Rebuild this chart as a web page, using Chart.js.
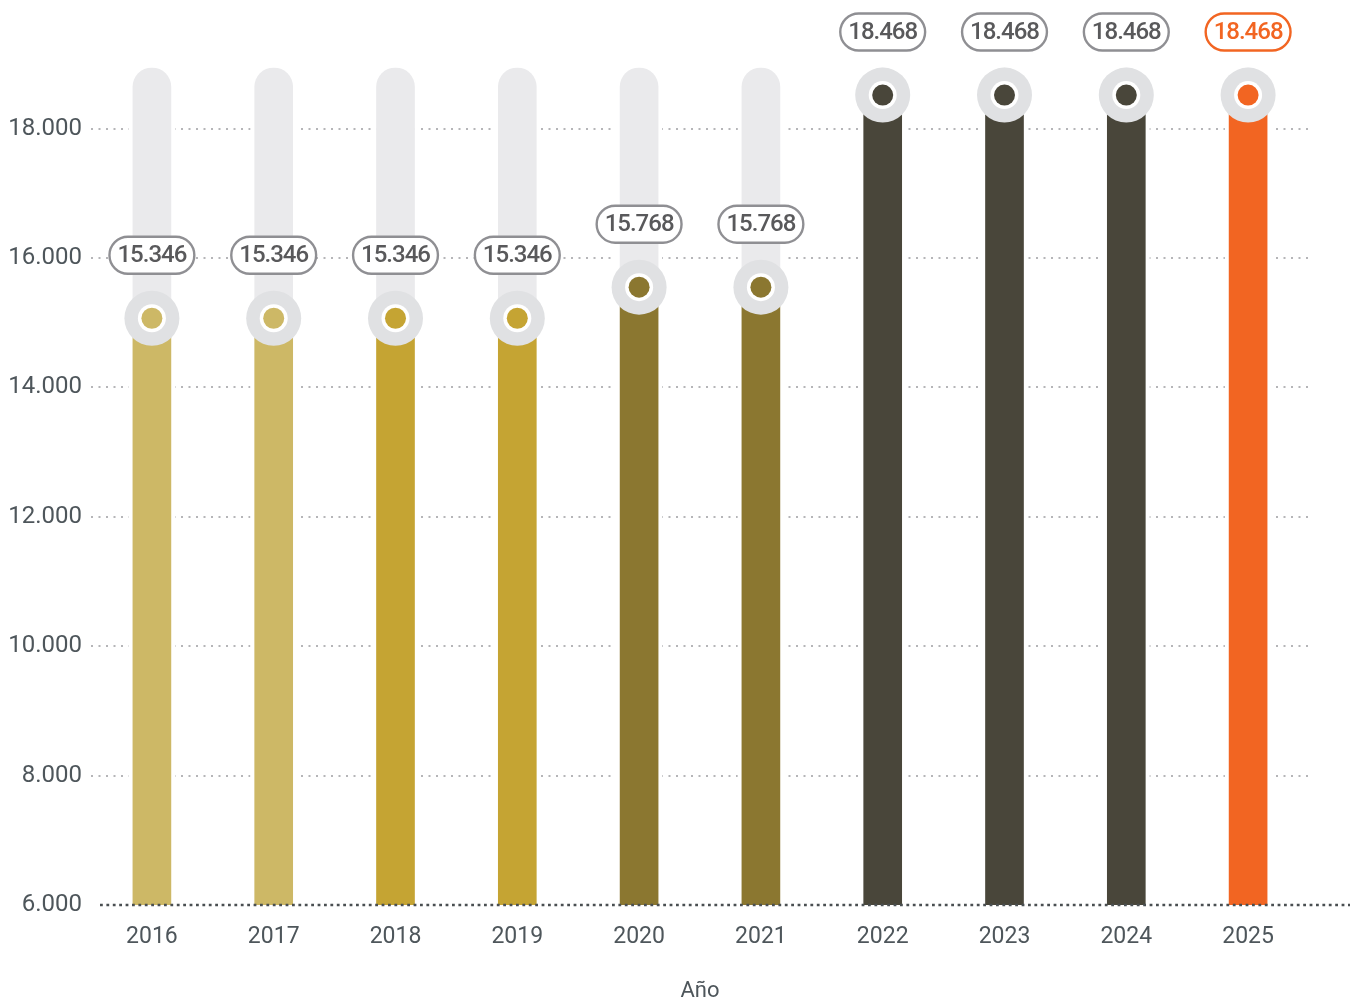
<!DOCTYPE html>
<html>
<head>
<meta charset="utf-8">
<script src="https://cdn.jsdelivr.net/npm/chart.js@4.4.0/dist/chart.umd.min.js"></script>
<style>
  html, body { margin: 0; padding: 0; background: #fff; }
  #chart { display: block; }
</style>
</head>
<body>
<canvas id="chart" width="1363" height="1008"></canvas>
<script>
// ── Data ──────────────────────────────────────────────────
const years       = ['2016', '2017', '2018', '2019', '2020', '2021', '2022', '2023', '2024', '2025'];
// bar heights as drawn in the picture (dot centres)
const barValues   = [15070, 15070, 15070, 15070, 15550, 15550, 18520, 18520, 18520, 18520];
// printed values in the pills
const labelValues = ['15.346', '15.346', '15.346', '15.346', '15.768', '15.768', '18.468', '18.468', '18.468', '18.468'];
const trackValues = [19000, 19000, 19000, 19000, 19000, 19000, 19000, 19000, 19000, 19000];
const yTicks      = [6000, 8000, 10000, 12000, 14000, 16000, 18000];

const barColors = ['#CDB866', '#CDB866', '#C5A433', '#C5A433', '#8B7730', '#8B7730',
                   '#49463A', '#49463A', '#49463A', '#F26522'];
const ORANGE = '#F26522';
const TEXT   = '#4E565B';

// ── Plugins ──────────────────────────────────────────────
const baseline = {
  id: 'baseline',
  afterDatasetsDraw(chart) {
    const { ctx, chartArea, scales } = chart;
    const y = scales.y.getPixelForValue(yTicks[0]);
    ctx.save();
    ctx.strokeStyle = '#4A4F52';
    ctx.lineWidth = 2.6;
    ctx.setLineDash([2.8, 3.6]);
    ctx.beginPath();
    ctx.moveTo(chartArea.left + 9, y);
    ctx.lineTo(chartArea.right + 41, y);
    ctx.stroke();
    ctx.restore();
  }
};

const pills = {
  id: 'pills',
  afterDatasetsDraw(chart) {
    const { ctx } = chart;
    const meta = chart.getDatasetMeta(4);
    ctx.save();
    ctx.font = '500 24px Roboto';
    ctx.letterSpacing = '-1px';
    ctx.textAlign = 'center';
    ctx.textBaseline = 'middle';
    meta.data.forEach((pt, i) => {
      const txt = labelValues[i];
      const last = i === labelValues.length - 1;
      const w = ctx.measureText(txt).width + 16;
      const h = 37;
      const cx = pt.x, cy = Math.max(pt.y - 63, 27);
      ctx.beginPath();
      ctx.roundRect(cx - w / 2, cy - h / 2, w, h, h / 2);
      ctx.fillStyle = '#fff';
      ctx.fill();
      ctx.lineWidth = 2.4;
      ctx.strokeStyle = last ? ORANGE : '#8F8F93';
      ctx.stroke();
      ctx.fillStyle = last ? ORANGE : '#59595B';
      ctx.fillText(txt, cx, cy + 1);
    });
    ctx.restore();
  }
};

// ── Chart ─────────────────────────────────────────────────
const dot = (data, radius, color, order) => ({
  type: 'line',
  data,
  showLine: false,
  pointRadius: radius,
  pointHoverRadius: radius,
  pointBorderWidth: 0,
  pointBackgroundColor: color,
  order,
});

new Chart(document.getElementById('chart'), {
  type: 'bar',
  data: {
    labels: years,
    datasets: [
      {
        data: trackValues,
        backgroundColor: '#EAEAEC',
        borderColor: '#fff',
        borderWidth: { left: 4, right: 4, top: 4, bottom: 0 },
        borderSkipped: 'bottom',
        borderRadius: { topLeft: 23, topRight: 23 },
        barThickness: 46,
        grouped: false,
        order: 5,
      },
      {
        data: barValues,
        backgroundColor: barColors,
        borderColor: '#fff',
        borderWidth: { left: 4, right: 4, top: 0, bottom: 0 },
        borderSkipped: 'bottom',
        barThickness: 46,
        grouped: false,
        order: 4,
      },
      dot(barValues, 27.5, '#E0E1E3', 3),
      dot(barValues, 14, '#FFFFFF', 2),
      dot(barValues, 10.5, barColors, 1),
    ]
  },
  options: {
    responsive: false,
    animation: false,
    layout: { padding: { top: 64, right: 54, left: 0, bottom: 0 } },
    plugins: {
      legend: { display: false },
      tooltip: { enabled: false },
    },
    scales: {
      x: {
        offset: true,
        grid: { display: false },
        border: { display: false },
        ticks: {
          color: TEXT,
          padding: 10,
          font: { family: 'Roboto', size: 23, weight: '400' },
        },
        title: {
          display: true,
          text: 'Año',
          color: TEXT,
          padding: { top: 3, bottom: 3 },
          font: { family: 'Roboto', size: 22, weight: '400' },
        },
        afterFit: s => { s.height = 103; },
      },
      y: {
        min: 6000,
        max: 19000,
        border: { display: false, dash: [2, 5.5] },
        grid: {
          drawTicks: false,
          color: ctx => ctx.tick && ctx.tick.value === yTicks[0] ? 'rgba(0,0,0,0)' : '#B5B5B8',
          lineWidth: 2,
        },
        afterBuildTicks: s => { s.ticks = yTicks.map(v => ({ value: v })); },
        ticks: {
          color: TEXT,
          padding: 9,
          font: { family: 'Roboto', size: 24, weight: '400' },
          callback: v => v.toLocaleString('de-DE'),
        },
        afterFit: s => { s.width = 91; },
      }
    }
  },
  plugins: [baseline, pills]
});
</script>
</body>
</html>
